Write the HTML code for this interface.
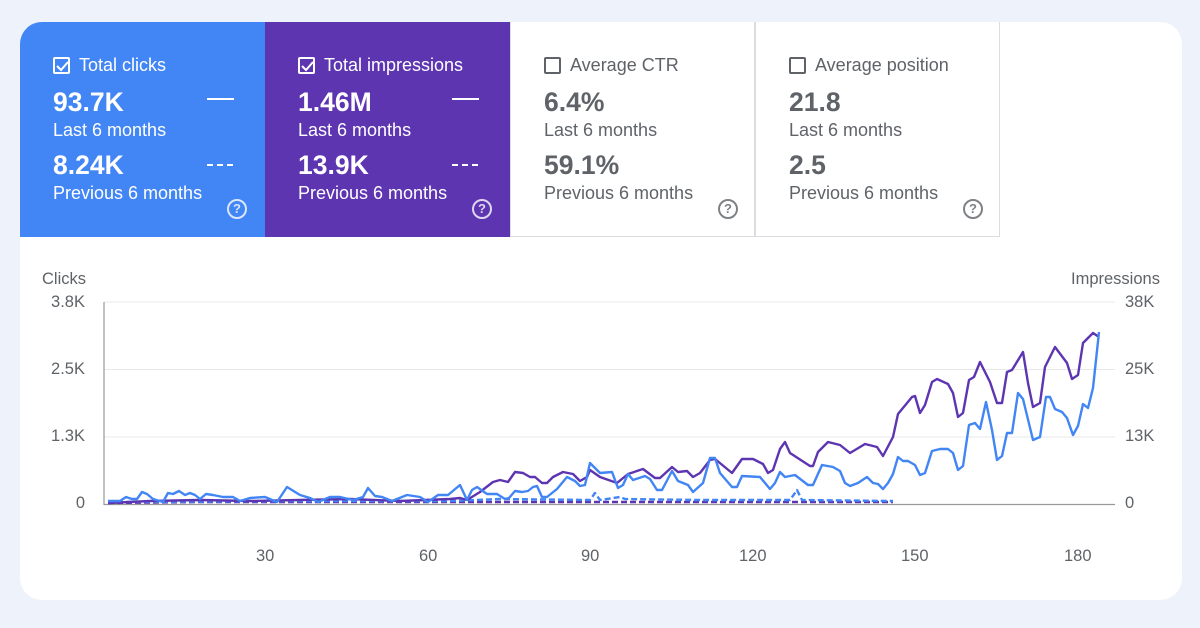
<!DOCTYPE html>
<html><head><meta charset="utf-8"><style>
*{margin:0;padding:0;box-sizing:border-box}
body{width:1200px;height:628px;background:#eef2fa;font-family:"Liberation Sans",Arial,sans-serif;position:relative;overflow:hidden}
.card{position:absolute;left:20px;top:22px;width:1162px;height:578px;background:#fff;border-radius:22px;overflow:hidden}
.tile{position:absolute;top:0;width:245px;height:215px;color:#fff}
.t1{left:0;background:#4285f4}
.t2{left:245px;background:#5e35b1}
.t3{left:490px;border:1px solid #dadce0;border-top:none;color:#5f6368}
.t4{left:735px;border:1px solid #dadce0;border-top:none;color:#5f6368}
.cb{position:absolute;left:33px;top:35px;width:17px;height:17px;border:2px solid currentColor;border-radius:2px}
.t3 .cb,.t4 .cb{border-color:#5f6368}
.ttl{position:absolute;left:59px;top:33px;font-size:18px}
.v{position:absolute;left:33px;font-size:26.5px;font-weight:bold}
.l{position:absolute;left:33px;font-size:18px}
.q{position:absolute;left:207px;top:177px;width:20px;height:20px;border:2px solid currentColor;border-radius:50%;font-size:13px;font-weight:bold;text-align:center;line-height:16px;opacity:.8}
.ln{position:absolute;left:187px;top:76px;width:27px;height:2px;background:#fff}
.dl{position:absolute;left:187px;top:142px;width:27px;height:2px;background:repeating-linear-gradient(90deg,#fff 0 6px,transparent 6px 10px)}
.ax{position:absolute;font-size:16.5px;color:#5f6368}
</style></head><body>
<div class="card">
<div class="tile t1"><div class="cb"></div><svg style="position:absolute;left:36px;top:38px" width="13" height="12"><path d="M1 6 L5 10 L12 2" stroke="#fff" stroke-width="2" fill="none"/></svg><div class="ttl">Total clicks</div>
<div class="v" style="top:65px">93.7K</div><div class="l" style="top:98px">Last 6 months</div>
<div class="v" style="top:128px">8.24K</div><div class="l" style="top:161px">Previous 6 months</div>
<div class="ln"></div><div class="dl"></div><div class="q">?</div></div>
<div class="tile t2"><div class="cb"></div><svg style="position:absolute;left:36px;top:38px" width="13" height="12"><path d="M1 6 L5 10 L12 2" stroke="#fff" stroke-width="2" fill="none"/></svg><div class="ttl">Total impressions</div>
<div class="v" style="top:65px">1.46M</div><div class="l" style="top:98px">Last 6 months</div>
<div class="v" style="top:128px">13.9K</div><div class="l" style="top:161px">Previous 6 months</div>
<div class="ln"></div><div class="dl"></div><div class="q">?</div></div>
<div class="tile t3"><div class="cb"></div><div class="ttl">Average CTR</div>
<div class="v" style="top:65px">6.4%</div><div class="l" style="top:98px">Last 6 months</div>
<div class="v" style="top:128px">59.1%</div><div class="l" style="top:161px">Previous 6 months</div><div class="q">?</div></div>
<div class="tile t4"><div class="cb"></div><div class="ttl">Average position</div>
<div class="v" style="top:65px">21.8</div><div class="l" style="top:98px">Last 6 months</div>
<div class="v" style="top:128px">2.5</div><div class="l" style="top:161px">Previous 6 months</div><div class="q">?</div></div>
</div>
<div class="ax" style="left:42px;top:270px">Clicks</div>
<div class="ax" style="left:1071px;top:270px">Impressions</div>
<div class="ax" style="left:35px;top:293px;width:50px;text-align:right">3.8K</div>
<div class="ax" style="left:35px;top:360px;width:50px;text-align:right">2.5K</div>
<div class="ax" style="left:35px;top:427px;width:50px;text-align:right">1.3K</div>
<div class="ax" style="left:35px;top:494px;width:50px;text-align:right">0</div>
<div class="ax" style="left:1125px;top:293px">38K</div>
<div class="ax" style="left:1125px;top:360px">25K</div>
<div class="ax" style="left:1125px;top:427px">13K</div>
<div class="ax" style="left:1125px;top:494px">0</div>
<div class="ax" style="left:256px;top:547px">30</div>
<div class="ax" style="left:419px;top:547px">60</div>
<div class="ax" style="left:581px;top:547px">90</div>
<div class="ax" style="left:739px;top:547px">120</div>
<div class="ax" style="left:901px;top:547px">150</div>
<div class="ax" style="left:1064px;top:547px">180</div>
<svg style="position:absolute;left:0;top:0" width="1200" height="628">
<g stroke="#e8e8e8" stroke-width="1"><line x1="104" y1="302" x2="1115" y2="302"/><line x1="104" y1="369.5" x2="1115" y2="369.5"/><line x1="104" y1="437" x2="1115" y2="437"/></g>
<line x1="104" y1="302" x2="104" y2="505" stroke="#999" stroke-width="1.2"/>
<line x1="104" y1="504.5" x2="1115" y2="504.5" stroke="#999" stroke-width="1.2"/>
<g fill="none" stroke-width="2.4" stroke-linejoin="round">
<polyline stroke="#5e35b1" stroke-dasharray="6,3" points="108,503 200,502 300,502 400,502 500,502 600,502 700,502 800,502 893,502"/>
<polyline stroke="#4285f4" stroke-dasharray="6,3" points="108,502 300,501 450,501 500,499 590,500 595,493 600,500 620,497 625,499 700,500 790,500 797,490 802,500 893,501"/>
<polyline stroke="#5e35b1" points="108,503 150,501 200,500 250,501 300,500 350,499 400,501 450,499 460,498 467,500 480,492 493,482 500,480 508,482 515,472 523,473 530,477 535,477 542,483 547,483 553,477 563,472 573,474 580,481 587,477 590,470 600,477 617,483 628,474 643,469 655,478 660,478 672,467 678,472 687,471 693,477 700,473 710,460 715,459 732,473 742,459 753,459 763,464 768,473 773,470 780,449 785,442 790,453 810,466 813,466 818,452 828,442 840,445 850,453 865,444 877,447 883,456 893,437 898,414 912,397 915,396 920,413 925,405 932,382 937,379 948,384 953,393 958,417 963,413 969,380 974,377 980,362 990,382 997,403 1002,403 1007,372 1012,370 1023,352 1028,383 1033,407 1040,403 1045,367 1055,347 1067,363 1072,379 1078,375 1083,343 1093,333 1099,337"/>
<polyline stroke="#4285f4" points="108,501 120,501 126,497 132,499 137,499 142,492 147,494 153,499 163,502 168,493 173,494 179,491 185,495 190,493 195,495 200,499 206,494 213,495 223,497 233,497 240,501 250,498 265,497 277,502 287,487 300,495 310,498 318,502 330,497 340,497 353,500 363,497 368,488 375,496 382,497 392,501 407,495 420,497 428,502 438,495 448,495 460,485 467,500 472,490 477,487 487,494 497,494 505,499 509,498 515,491 522,492 528,491 533,487 537,486 542,497 547,497 557,489 567,477 575,481 580,486 585,485 590,463 600,473 612,472 618,488 623,485 628,474 633,480 645,476 650,479 657,490 662,490 672,471 678,481 688,485 693,492 703,483 710,458 715,458 720,473 732,487 737,487 742,476 760,477 770,489 775,483 780,472 785,477 795,475 808,485 813,485 822,465 833,467 840,471 845,483 850,486 858,483 867,477 873,483 878,484 883,489 888,483 893,474 898,457 903,461 908,461 915,465 920,475 925,473 932,451 940,449 948,449 953,453 958,470 963,466 969,425 975,423 980,429 986,402 992,430 997,460 1002,456 1007,433 1012,433 1018,393 1023,399 1033,440 1040,437 1046,397 1050,397 1055,409 1062,412 1067,418 1073,435 1078,426 1083,404 1088,408 1093,388 1099,332"/>
</g></svg>
</body></html>
